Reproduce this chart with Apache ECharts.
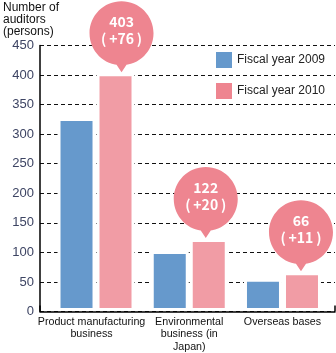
<!DOCTYPE html>
<html>
<head>
<meta charset="utf-8">
<script src="https://cdn.jsdelivr.net/npm/echarts@6/dist/echarts.min.js"></script>
<style>
  html, body { margin: 0; padding: 0; background: #fff; }
  #chart { width: 336px; height: 353px; }
</style>
</head>
<body>
<div id="chart"></div>
<script>
// Auditors per business area, fiscal 2009 vs fiscal 2010
const categories = ['Product manufacturing\nbusiness', 'Environmental\nbusiness (in\nJapan)', 'Overseas bases'];
const fy2009 = [327, 102, 55];
const fy2010 = [403, 122, 66];
const seriesNames = ['Fiscal year 2009', 'Fiscal year 2010'];
const yMin = 0, yMax = 450, yStep = 50;

// callout layout (horizontal nudge of each bubble, px)
const bubbleShift = [6, -3, -1];

const BLUE = '#6699cc', PINK = '#f19ca5', BUBBLE = '#ee8590';
const FONT = '"Liberation Sans", Arial, sans-serif';

// round callout with a short pointer underneath (64 x 71 box)
const bubblePath = 'path://M32 0C49.67 0 64 14.33 64 32C64 49.67 49.67 64 32 64C14.33 64 0 49.67 0 32C0 14.33 14.33 0 32 0ZM38 62L32 71L26 62Z';

const chart = echarts.init(document.getElementById('chart'), null, { renderer: 'canvas' });

chart.setOption({
  animation: false,
  backgroundColor: '#fff',
  title: {
    text: 'Number of\nauditors\n(persons)',
    left: 3, top: 2, padding: 0,
    textStyle: { fontFamily: FONT, fontSize: 12, fontWeight: 'normal', color: '#111', lineHeight: 12 }
  },
  legend: {
    orient: 'vertical',
    left: 216, top: 52,
    padding: 0,
    itemWidth: 16, itemHeight: 16, itemGap: 15,
    icon: 'rect',
    itemStyle: { borderWidth: 0 },
    textStyle: { fontFamily: FONT, fontSize: 12, color: '#222' },
    data: [
      { name: seriesNames[0], itemStyle: { color: BLUE, borderWidth: 0 } },
      { name: seriesNames[1], itemStyle: { color: BUBBLE, borderWidth: 0 } }
    ]
  },
  grid: [
    // frame: axis lines, ticks, dashed grid
    { left: 40, right: 1, top: 45.5, bottom: 41.5 },
    // bar layout area
    { left: 49.4, width: 279.7, top: 45.5, bottom: 41.5 }
  ],
  xAxis: [
    {
      gridIndex: 0, type: 'category', data: [''], z: 10,
      axisLine: { show: true, lineStyle: { color: '#000', width: 1.5 } },
      axisTick: { show: true, inside: true, length: 6, lineStyle: { color: '#000', width: 1.5 } },
      axisLabel: { show: false },
      splitLine: { show: false }
    },
    {
      gridIndex: 1, type: 'category',
      data: categories.map((c, i) => i === 0 ? { value: c, textStyle: { padding: [0, 9, 0, 0] } } : c),
      axisLine: { show: false },
      axisTick: { show: false },
      axisLabel: {
        interval: 0, margin: 5,
        fontFamily: FONT, fontSize: 10.7, lineHeight: 12.3, color: '#111'
      }
    }
  ],
  yAxis: [
    {
      gridIndex: 0, type: 'value', min: yMin, max: yMax, interval: yStep, z: 0,
      axisLine: { show: true, lineStyle: { color: '#000', width: 1.5 } },
      axisTick: { show: false },
      axisLabel: { margin: 6, fontFamily: FONT, fontSize: 13, color: '#3d4463' },
      splitLine: { show: true, lineStyle: { color: '#111', width: 1, type: [4, 3] } }
    },
    {
      gridIndex: 1, type: 'value', min: yMin, max: yMax, interval: yStep, show: false,
      splitLine: { show: false }
    }
  ],
  series: [
    {
      name: seriesNames[0], type: 'bar', xAxisIndex: 1, yAxisIndex: 1,
      data: fy2009, barWidth: 38, barGap: '2.63%', z: 2,
      itemStyle: { color: BLUE, borderColor: '#fff', borderWidth: 3 }
    },
    {
      name: seriesNames[1], type: 'bar', xAxisIndex: 1, yAxisIndex: 1,
      data: fy2010, barWidth: 38, barGap: '2.63%', z: 2,
      itemStyle: { color: PINK, borderColor: '#fff', borderWidth: 3 }
    },
    {
      name: 'callouts', type: 'scatter', xAxisIndex: 1, yAxisIndex: 1, z: 5,
      symbol: bubblePath, symbolSize: [64, 71], symbolKeepAspect: false,
      itemStyle: { color: BUBBLE, opacity: 1 },
      silent: true,
      data: fy2010.map((v, i) => ({
        value: [i, v],
        symbolOffset: [19.5 + bubbleShift[i], -36.5]
      })),
      label: {
        show: true, position: 'inside', offset: [0, -6.5],
        formatter: p => fy2010[p.dataIndex] + '\n(\u2009+' + (fy2010[p.dataIndex] - fy2009[p.dataIndex]) + '\u2009)',
        fontFamily: '"Noto Sans CJK JP", sans-serif', fontSize: 14, fontWeight: 'bold',
        lineHeight: 17, color: '#fff', align: 'center'
      }
    }
  ]
});
</script>
</body>
</html>
